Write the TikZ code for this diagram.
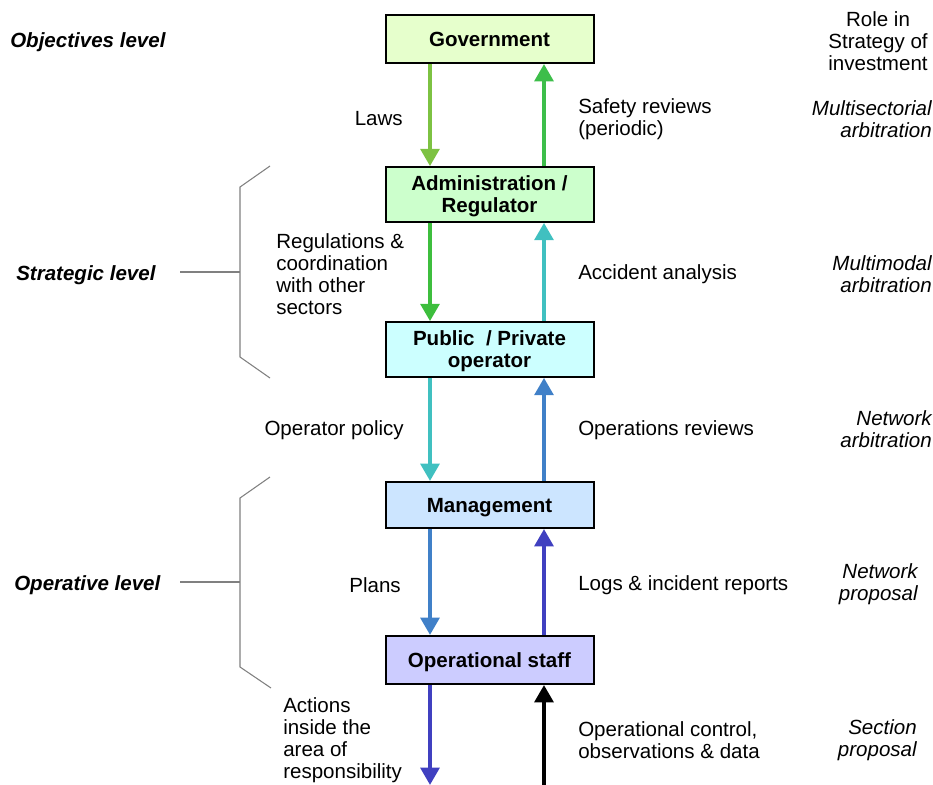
\documentclass[tikz,border=0pt]{standalone}
\usepackage{fontspec}
\setmainfont{Liberation Sans}
\usepackage{xcolor}
\usetikzlibrary{arrows.meta}
\definecolor{GovFill}{RGB}{230,255,204}
\definecolor{AdmFill}{RGB}{204,255,204}
\definecolor{PubFill}{RGB}{204,255,255}
\definecolor{MgtFill}{RGB}{204,229,255}
\definecolor{OpsFill}{RGB}{204,204,255}
\definecolor{LawGreen}{RGB}{125,194,66}
\definecolor{SafeGreen}{RGB}{61,190,74}
\definecolor{RegGreen}{RGB}{61,190,61}
\definecolor{Teal}{RGB}{64,192,192}
\definecolor{MidBlue}{RGB}{64,128,200}
\definecolor{Indigo}{RGB}{64,64,192}
\definecolor{BraceGray}{RGB}{128,128,128}
\tikzset{
  actor/.style={draw=black,line width=1.5pt,minimum width=156pt,inner sep=0pt,
    align=center,text depth=0pt,font=\bfseries\fontsize{15.4}{16.5}\selectfont},
  flow/.style={line width=3pt,-{Triangle[width=14pt,length=13pt]}},
  lbl/.style={font=\fontsize{15.4}{16.5}\selectfont,inner sep=0pt,yshift=-1.5pt},
  role/.style={font=\itshape\fontsize{15.4}{16.5}\selectfont,inner sep=0pt,align=right,anchor=east,yshift=-1.5pt},
  level/.style={font=\bfseries\itshape\fontsize{15.4}{16.5}\selectfont,inner sep=0pt,anchor=west,yshift=-1.5pt},
  brace/.style={draw=BraceGray,line width=0.8pt}
}
\begin{document}
\begin{tikzpicture}[x=0.75pt,y=-0.75pt]
  \useasboundingbox (0,0) rectangle (933,785);
  % actors
  \node[actor,fill=GovFill,minimum height=36pt] (gov) at (489.5,39) {Government};
  \node[actor,fill=AdmFill,minimum height=41pt] (adm) at (489.5,194.5) {Administration /\\Regulator};
  \node[actor,fill=PubFill,minimum height=41pt] (pub) at (489.5,349.5) {Public\ \ / Private\\operator};
  \node[actor,fill=MgtFill,minimum height=34.5pt] (mgt) at (489.5,505) {Management};
  \node[actor,fill=OpsFill,minimum height=36pt] (ops) at (489.5,660) {Operational staff};
  \coordinate (L) at (430,0);
  \coordinate (R) at (544,0);
  \coordinate (outL) at (430,785);
  \coordinate (outR) at (544,785);
  % flows down and up
  \draw[flow,LawGreen] (gov.south -| L) -- (adm.north -| L);
  \draw[flow,SafeGreen] (adm.north -| R) -- (gov.south -| R);
  \draw[flow,RegGreen] (adm.south -| L) -- (pub.north -| L);
  \draw[flow,Teal] (pub.north -| R) -- (adm.south -| R);
  \draw[flow,Teal] (pub.south -| L) -- (mgt.north -| L);
  \draw[flow,MidBlue] (mgt.north -| R) -- (pub.south -| R);
  \draw[flow,MidBlue] (mgt.south -| L) -- (ops.north -| L);
  \draw[flow,Indigo] (ops.north -| R) -- (mgt.south -| R);
  \draw[flow,Indigo] (ops.south -| L) -- (outL);
  \draw[flow,black] (outR) -- (ops.south -| R);
  % flow labels
  \node[lbl,anchor=east] (laws) at (403,117) {Laws};
  \node[lbl,anchor=west,align=left] (safe) at (578,117) {Safety reviews\\(periodic)};
  \node[lbl,anchor=west,align=left] (regs) at (276,272) {Regulations \&\\coordination\\with other\\sectors};
  \node[lbl,anchor=west] (acc) at (578,272) {Accident analysis};
  \node[lbl,anchor=east] (pol) at (404,428) {Operator policy};
  \node[lbl,anchor=west] (rev) at (578,428) {Operations reviews};
  \node[lbl,anchor=east] (plans) at (401,583) {Plans};
  \node[lbl,anchor=west] (logs) at (578,583) {Logs \& incident reports};
  \node[lbl,anchor=west,align=left] (act) at (283,738) {Actions\\inside the\\area of\\responsibility};
  \node[lbl,anchor=west,align=left] (ctl) at (578,738) {Operational control,\\observations \& data};
  % roles
  \node[lbl,align=center] (rolehead) at (878,39.5) {Role in\\Strategy of\\investment};
  \node[role] (multisec) at (932,117) {Multisectorial\\arbitration};
  \node[role] (multimod) at (932,272) {Multimodal\\arbitration};
  \node[role] (netarb) at (932,427) {Network\\arbitration};
  \node[role] (netprop) at (918,582.5) {Network\\proposal};
  \node[role] (secprop) at (917,738) {Section\\proposal};
  % levels
  \node[level] (objlvl) at (10,40) {Objectives level};
  \node[level] (strlvl) at (16,273) {Strategic level};
  \node[level] (oprlvl) at (14,583) {Operative level};
  \draw[brace] (270,166) -- (240,187) -- (240,357) -- (270,378);
  \draw[brace] (180,272) -- (240,272);
  \draw[brace] (270,477) -- (240,498) -- (240,667) -- (271,688);
  \draw[brace] (180,582) -- (240,582);
\end{tikzpicture}
\end{document}
